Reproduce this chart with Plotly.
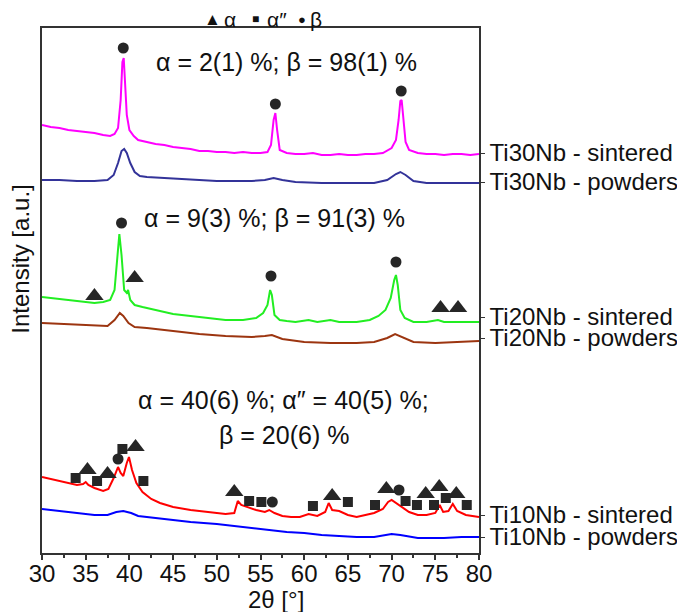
import plotly.graph_objects as go

# XRD patterns (2theta in degrees, intensity in a.u. with stacking offsets)
ti30_sint_x = [30, 31, 32, 33, 34, 35, 36, 37, 37.8, 38.3, 38.7, 39.0, 39.2, 39.35, 39.5, 39.7, 40.0, 40.5,
               41, 42, 43, 44, 45, 46, 47, 48, 49, 50, 51, 52, 53, 54, 55, 55.8, 56.2, 56.5, 56.7, 56.9,
               57.2, 58, 59, 60, 61, 62, 63, 64, 65, 66, 67, 68, 69, 70, 70.5, 70.8, 71.0, 71.15, 71.35,
               71.6, 72, 73, 74, 75, 76, 77, 78, 79, 80]
ti30_sint_y = [428, 426, 425, 423, 422, 421, 420, 418, 417, 419, 425, 453, 491, 495, 473, 438, 423, 417,
               413, 411, 409, 408, 406, 405, 404, 402, 402, 401, 401, 400, 401, 400, 400, 401, 408, 433, 440, 423,
               403, 400, 399, 399, 400, 398, 398, 399, 398, 398, 399, 399, 400, 405, 413, 433, 452, 453, 433,
               411, 403, 400, 399, 399, 398, 399, 399, 398, 399]

ti30_pow_x = [30, 32, 34, 36, 37.5, 38.2, 38.7, 39.1, 39.4, 39.7, 40.1, 40.6, 41.2, 42, 44, 46, 48, 50, 52,
              54, 55.5, 56.5, 57.5, 59, 62, 65, 68, 69.5, 70.5, 71.0, 71.6, 72.5, 74, 77, 80]
ti30_pow_y = [373, 373, 372, 372, 373, 378, 390, 402, 404, 400, 390, 381, 377, 376, 375, 374, 373, 372, 372,
              372, 373, 375, 373, 371, 370, 370, 370, 373, 379, 381, 378, 372, 370, 370, 370]

ti20_sint_x = [30, 31, 32, 33, 34, 35, 36, 37, 37.8, 38.3, 38.6, 38.85, 39.1, 39.4, 39.7, 39.85, 40.1, 40.6,
               41.5, 43, 45, 47, 49, 51, 53, 54.5, 55.3, 55.8, 56.1, 56.3, 56.6, 57.2, 58, 59, 60.5, 61.5,
               63, 64, 66, 67.5, 68.5, 69.3, 69.9, 70.3, 70.5, 70.7, 71.0, 71.5, 72.5, 74, 75.3, 76, 78, 80]
ti20_sint_y = [256, 255, 254, 253, 252, 251, 250, 251, 253, 263, 293, 319, 298, 263, 260, 263, 253, 248,
               246, 243, 239, 237, 235, 233, 233, 235, 240, 248, 263, 258, 238, 233, 232, 231, 233, 231,
               233, 231, 231, 233, 237, 243, 255, 273, 278, 268, 243, 235, 231, 231, 233, 231, 231, 231]

ti20_pow_x = [30, 32, 34, 36, 37.5, 38.3, 38.9, 39.3, 39.9, 40.6, 42, 45, 48, 51, 54, 55.5, 56.3, 57.5, 60,
              63, 66, 68, 69.5, 70.4, 71.2, 72.5, 75, 78, 80]
ti20_pow_y = [230, 229, 228, 227, 227, 233, 240, 237, 230, 226, 225, 222, 219, 217, 216, 217, 218, 214, 211,
              210, 210, 211, 215, 219, 216, 211, 210, 211, 212]

ti10_sint_x = [30, 31, 32, 33, 34, 34.7, 35.0, 35.3, 36, 37, 37.6, 38.2, 38.7, 39.0, 39.3, 39.7, 39.95, 40.3,
               40.8, 41.5, 42.5, 43.5, 45, 47, 49, 51, 52.0, 52.4, 52.8, 53.5, 54.5, 55.5, 56, 56.6, 57.5,
               58.5, 59.5, 60.5, 61.5, 62.4, 62.8, 63.2, 64, 65, 66, 67, 68, 69, 69.6, 70.0, 70.5, 71.2,
               72, 73, 74, 75, 75.5, 75.9, 76.5, 77.0, 77.5, 78.5, 79.5, 80]
ti10_sint_y = [76, 74, 72, 70, 68, 69, 71, 68, 65, 62, 64, 75, 86, 80, 77, 90, 96, 83,
               70, 61, 54, 50, 46, 43, 41, 39, 40, 52, 48, 46, 43, 41, 43, 40, 37,
               36, 36, 39, 37, 41, 50, 43, 42, 38, 36, 38, 40, 44, 51, 53, 50, 45,
               41, 38, 38, 40, 48, 41, 42, 49, 42, 38, 37, 36]

ti10_pow_x = [30, 32, 34, 36, 37.5, 38.5, 39.3, 40.2, 41, 43, 45, 47, 50, 53, 56, 58, 60, 62, 64, 66, 68,
              70, 71, 73, 76, 78, 80]
ti10_pow_y = [44, 42, 40, 38, 38, 41, 42, 40, 37, 35, 33, 31, 29, 26, 23, 21, 20, 18, 17, 16, 16,
              19, 18, 15, 15, 16, 16]

series = [
    ("Ti30Nb - sintered", ti30_sint_x, ti30_sint_y, "#ff00ff"),
    ("Ti30Nb - powders", ti30_pow_x, ti30_pow_y, "#333399"),
    ("Ti20Nb - sintered", ti20_sint_x, ti20_sint_y, "#22ee22"),
    ("Ti20Nb - powders", ti20_pow_x, ti20_pow_y, "#9c3510"),
    ("Ti10Nb - sintered", ti10_sint_x, ti10_sint_y, "#ff0000"),
    ("Ti10Nb - powders", ti10_pow_x, ti10_pow_y, "#0000ff"),
]

# right-hand labels
label_pos = [400, 371, 236, 215, 38, 16]
label_text = [s[0] for s in series]

# phase markers
alpha_x = [36.0, 40.6, 75.6, 77.6, 35.2, 37.5, 40.7, 52.0, 63.2, 69.4, 73.9, 75.45, 77.4]
alpha_y = [257, 275, 245, 245, 83, 79, 106, 61, 57, 64, 59, 66, 59]
alpha2_x = [33.85, 36.3, 39.2, 41.6, 53.7, 55.1, 61.0, 65.0, 68.1, 71.6, 72.9, 74.85, 76.2, 78.6]
alpha2_y = [75, 72, 104, 72, 52, 51, 47, 51, 48, 52, 48, 48, 55, 48]
beta_x = [39.3, 56.7, 71.1, 39.1, 56.2, 70.5, 38.7, 56.35, 70.85]
beta_y = [505, 449, 462, 330, 277, 291, 94, 51, 63]

# phase fractions text
frac_text = ["α = 2(1) %; β = 98(1) %", "α = 9(3) %; β = 91(3) %",
             "α = 40(6) %; α″ = 40(5) %;", "β = 20(6) %"]
frac_x = [58.0, 56.6, 57.65, 57.7]
frac_y = [491, 335, 153, 118]

# key above the plot: glyph, font size, x position (paper)
key_text = ["▲", "α", "■", "α″", "●", "β"]
key_size = [17, 21, 12, 21, 13, 21]
key_x = [0.391, 0.431, 0.489, 0.538, 0.596, 0.627]

FONT = "Liberation Sans, Arial, sans-serif"
MARK = "#262626"
TXT = "#111"

fig = go.Figure()
for name, xs, ys, col in series:
    fig.add_trace(go.Scatter(x=xs, y=ys, mode="lines", name=name,
                             line=dict(color=col, width=2)))

fig.add_trace(go.Scatter(x=alpha_x, y=alpha_y, mode="markers",
                         marker=dict(symbol="triangle-up", size=16, color=MARK)))
fig.add_trace(go.Scatter(x=alpha2_x, y=alpha2_y, mode="markers",
                         marker=dict(symbol="square", size=10, color=MARK)))
fig.add_trace(go.Scatter(x=beta_x, y=beta_y, mode="markers",
                         marker=dict(symbol="circle", size=11, color=MARK)))

for t, x, y in zip(frac_text, frac_x, frac_y):
    fig.add_annotation(x=x, y=y, text=t, showarrow=False, xanchor="center", yanchor="middle",
                       font=dict(family=FONT, size=25, color=TXT))

for t, s, x in zip(key_text, key_size, key_x):
    fig.add_annotation(xref="paper", yref="paper", x=x, y=1.0171, text=t, showarrow=False,
                       xanchor="center", yanchor="middle",
                       font=dict(family=FONT, size=s, color=TXT))

# axis titles
fig.add_annotation(xref="paper", yref="paper", x=-0.05, y=0.559, showarrow=False,
                   xanchor="center", yanchor="middle",
                   text="Intensity [a.u.]", textangle=-90,
                   font=dict(family=FONT, size=24, color=TXT))
fig.add_annotation(xref="x", yref="paper", x=56.8, y=-0.088, showarrow=False,
                   xanchor="center", yanchor="middle",
                   text="2θ [°]", font=dict(family=FONT, size=24, color=TXT))

fig.update_xaxes(range=[30, 80], tickvals=list(range(30, 85, 5)), ticks="outside", ticklen=5,
                 tickwidth=1.5, tickcolor="#333", showline=True, linecolor="#333", linewidth=1.5,
                 mirror=True, showgrid=False, zeroline=False, ticklabelstandoff=-7,
                 minor=dict(tickvals=[32.5, 37.5, 42.5, 47.5, 52.5, 57.5, 62.5, 67.5, 72.5, 77.5],
                            ticks="outside", ticklen=3, tickwidth=1.5, tickcolor="#333"),
                 tickfont=dict(family=FONT, size=24, color=TXT))
fig.update_yaxes(range=[0, 525], side="right", tickvals=label_pos, ticktext=label_text,
                 ticks="outside", ticklen=4, tickcolor="#333", showline=True, linecolor="#333",
                 linewidth=1.5, mirror=True, showgrid=False, zeroline=False,
                 tickfont=dict(family=FONT, size=24, color=TXT))

# page body adds an 8px offset, so the figure is drawn 8px smaller
fig.update_layout(width=677, height=604, showlegend=False,
                  margin=dict(l=34, r=206, t=20, b=59, autoexpand=False),
                  plot_bgcolor="white", paper_bgcolor="white")

fig.write_html("out.html")
